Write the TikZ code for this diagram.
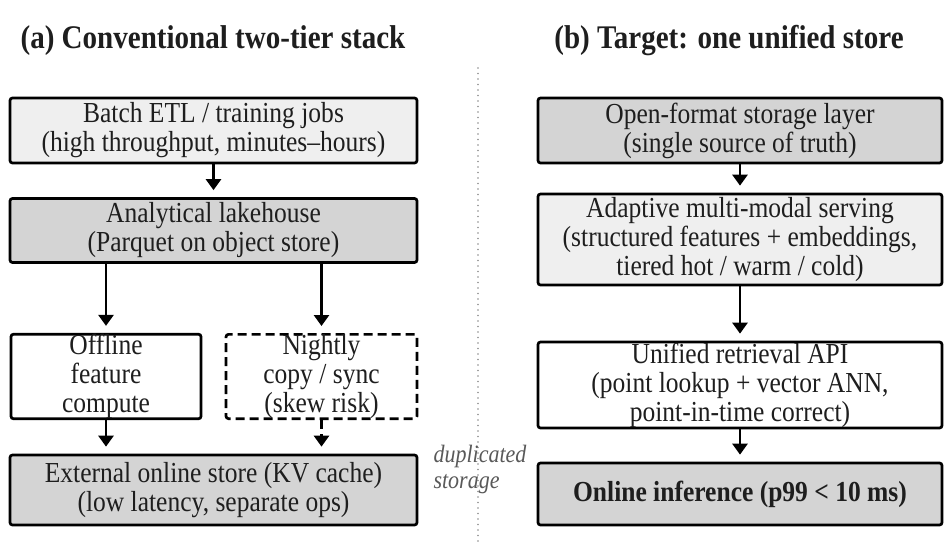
\documentclass[tikz,border=0pt]{standalone}
\usepackage{fontspec}
\setmainfont[FakeStretch=0.88]{Liberation Serif}
\usetikzlibrary{arrows.meta}
\definecolor{lightfill}{HTML}{EFEFEF}
\definecolor{darkfill}{HTML}{D4D4D4}
\definecolor{txt}{HTML}{1E1E1E}
\begin{document}
\begin{tikzpicture}[x=1pt,y=-1pt,
  box/.style={draw=black, line width=2.7pt, rounded corners=2.5pt, align=center,
    inner sep=0pt, text=txt, font=\fontsize{29}{29}\selectfont},
  lightbox/.style={box, fill=lightfill},
  darkbox/.style={box, fill=darkfill},
  whitebox/.style={box, fill=white},
  flow/.style={line width=2.7pt, -{Triangle[length=11pt,width=15pt]}, shorten >=7pt},
  paneltitle/.style={font=\bfseries\fontsize{33}{36}\selectfont, anchor=base, text=txt},
  note/.style={font=\itshape\fontsize{25}{26}\selectfont, text=black!65, align=left, anchor=west}
]
\useasboundingbox (0,0) rectangle (945,541);

% titles
\node[paneltitle] (ta) at (213,48) {(a) Conventional two-tier stack};
\node[paneltitle] (tb) at (729,48) {(b) Target: one unified store};

% divider
\coordinate (dtop) at (478,68);
\coordinate (dbot) at (478,541);
\draw[black!45, line width=1.6pt, line cap=round, dash pattern=on 0pt off 5.5pt] (dtop) -- (dbot);

% left column
\node[lightbox, minimum width=407pt, minimum height=65pt] (etl) at (213.5,130.5)
  {Batch ETL / training jobs\\(high throughput, minutes--hours)};
\node[darkbox, minimum width=407pt, minimum height=64pt] (lake) at (213.5,230.5)
  {Analytical lakehouse\\(Parquet on object store)};
\node[whitebox, minimum width=190pt, minimum height=80pt] (off) at (106,376.5)
  {Offline\\feature\\compute};
\node[whitebox, dash pattern=on 9pt off 5pt, minimum width=191pt, minimum height=80pt] (sync) at (321.5,376.5)
  {Nightly\\copy / sync\\(skew risk)};
\node[darkbox, minimum width=407pt, minimum height=70pt] (ext) at (213.5,490)
  {External online store (KV cache)\\(low latency, separate ops)};

\draw[flow] (etl.south) -- (lake.north);
\draw[flow] (off.north |- lake.south) -- (off.north);
\draw[flow] (sync.north |- lake.south) -- (sync.north);
\draw[flow] (off.south) -- (off.south |- ext.north);
\draw[flow, dash pattern=on 9pt off 5pt] (sync.south) -- (sync.south |- ext.north);

\node[note] (dup) at (430,469) {duplicated\\storage};

% right column
\node[darkbox, minimum width=404pt, minimum height=65pt] (open) at (740,130.5)
  {Open-format storage layer\\(single source of truth)};
\node[lightbox, minimum width=404pt, minimum height=91pt] (adapt) at (740,239.5)
  {Adaptive multi-modal serving\\(structured features + embeddings,\\tiered hot / warm / cold)};
\node[whitebox, minimum width=404pt, minimum height=86pt] (api) at (740,385)
  {Unified retrieval API\\(point lookup + vector ANN,\\point-in-time correct)};
\node[darkbox, minimum width=404pt, minimum height=62pt, font=\bfseries\fontsize{29}{29}\selectfont] (inf) at (740,494)
  {Online inference (p99 < 10 ms)};

\draw[flow] (open.south) -- (adapt.north);
\draw[flow] (adapt.south) -- (api.north);
\draw[flow] (api.south) -- (inf.north);
\end{tikzpicture}
\end{document}
